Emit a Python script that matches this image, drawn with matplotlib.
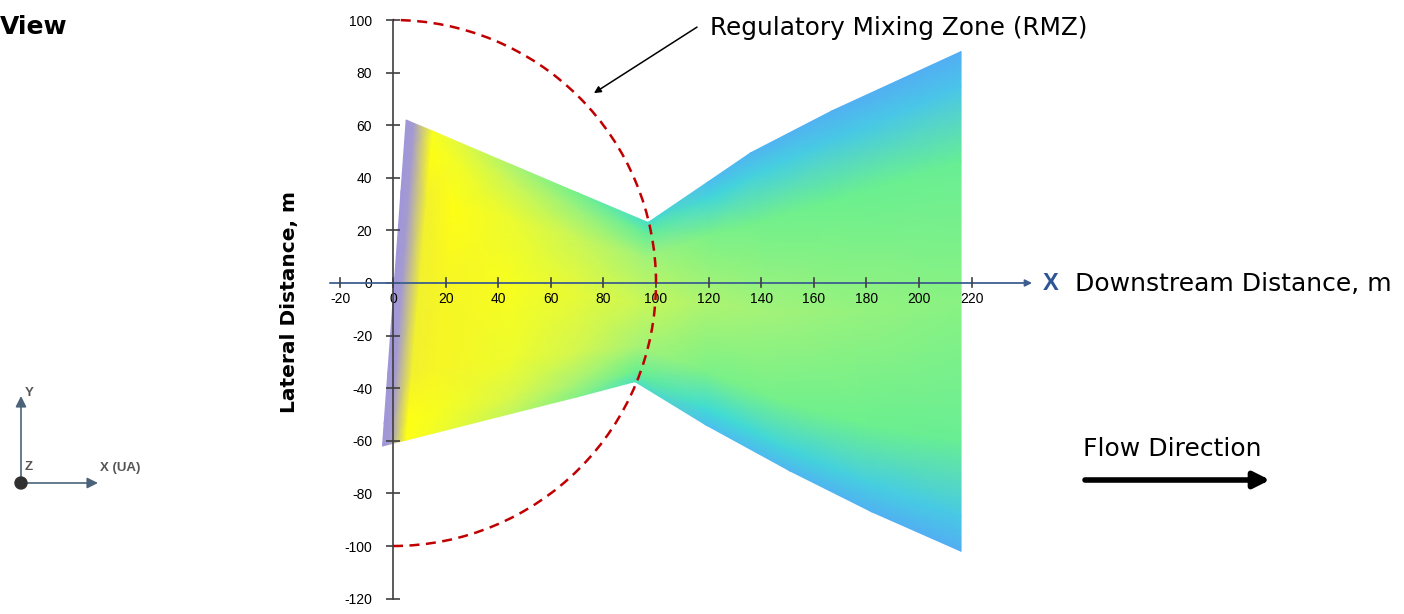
import numpy as np
import matplotlib
matplotlib.use("Agg")
import matplotlib.pyplot as plt
from matplotlib.colors import LinearSegmentedColormap
from matplotlib.patches import Arc, FancyArrowPatch, Circle

W, H = 1404, 614

# plume outline, sampled at matching stations along the top and bottom edges (m)
top_x = [5, 8, 15, 25, 45, 70, 97, 120, 136, 167, 216]
top_y = [62, 60.7, 57.8, 53.5, 45, 34.4, 23, 38.6, 49.5, 65.5, 88]
bot_x = [-4, -1, 5, 15, 45, 70, 92, 119, 151, 182, 216]
bot_y = [-62, -61.2, -59.7, -57.2, -49.6, -43.3, -37.5, -54, -71.5, -87, -102]

# fractional position across the plume (bottom edge = 0, top edge = 1)
across = [0, 0.07, 0.22, 0.5, 0.78, 0.93, 1]

# relative concentration at each station, bottom edge -> top edge
conc = [
    [1.00, 1.00, 1.00, 1.00, 1.00, 1.00, 1.00],
    [0.99, 0.99, 0.99, 0.99, 0.99, 0.99, 0.99],
    [0.84, 0.85, 0.87, 0.87, 0.87, 0.85, 0.82],
    [0.80, 0.82, 0.86, 0.86, 0.85, 0.80, 0.74],
    [0.64, 0.70, 0.78, 0.82, 0.77, 0.66, 0.58],
    [0.48, 0.56, 0.68, 0.75, 0.66, 0.52, 0.44],
    [0.34, 0.42, 0.56, 0.66, 0.55, 0.40, 0.32],
    [0.18, 0.30, 0.46, 0.58, 0.46, 0.28, 0.16],
    [0.12, 0.27, 0.44, 0.55, 0.44, 0.25, 0.10],
    [0.08, 0.24, 0.42, 0.52, 0.42, 0.22, 0.07],
    [0.05, 0.22, 0.41, 0.49, 0.41, 0.20, 0.05],
]

rmz_radius = 100
x_ticks = [-20, 0, 20, 40, 60, 80, 100, 120, 140, 160, 180, 200, 220]
y_ticks = [100, 80, 60, 40, 20, 0, -20, -40, -60, -80, -100, -120]

cmap = LinearSegmentedColormap.from_list("plume", [
    (0.00, "#55a8f5"),
    (0.18, "#4cc0ee"),
    (0.30, "#40dcd4"),
    (0.42, "#6cf08e"),
    (0.55, "#a2f37a"),
    (0.70, "#d8f84c"),
    (0.85, "#ffff14"),
    (1.00, "#a096da"),
])

plt.rcParams["font.family"] = ["Liberation Sans", "DejaVu Sans"]
fig = plt.figure(figsize=(W / 100, H / 100), dpi=100)

# axes placed so that one metre is ~2.63 px in both directions
scale = 2.63
x0_px, y0_px = 393, 283
xlim = (-30, 250)
ylim = (-125, 105)
left = (x0_px + xlim[0] * scale) / W
top = (y0_px - ylim[1] * scale) / H
ax = fig.add_axes([left, 1 - top - (ylim[1] - ylim[0]) * scale / H,
                   (xlim[1] - xlim[0]) * scale / W, (ylim[1] - ylim[0]) * scale / H])
ax.set_xlim(*xlim)
ax.set_ylim(*ylim)
ax.patch.set_alpha(0)

# curvilinear mesh between the two edges
t = np.array(across)[:, None]
tx, ty = np.array(top_x), np.array(top_y)
bx, by = np.array(bot_x), np.array(bot_y)
X = bx + t * (tx - bx)
Y = by + t * (ty - by)
C = np.array(conc).T
ax.pcolormesh(X, Y, C, shading="gouraud", cmap=cmap, vmin=0, vmax=1, zorder=1)

# mixing zone boundary
ax.add_patch(Arc((0, 0), 2 * rmz_radius, 2 * rmz_radius, theta1=-90, theta2=90,
                 color="#c00000", lw=1.8, ls=(0, (4, 2.6)), zorder=5))

# axes drawn through the origin
for s in ["top", "right", "bottom"]:
    ax.spines[s].set_visible(False)
ax.spines["left"].set_position(("data", 0))
ax.spines["left"].set_bounds(-120, 100)
ax.spines["left"].set_color("#404040")
ax.spines["left"].set_linewidth(1.2)
ax.spines["left"].set_zorder(4)
ax.annotate("", xy=(243, 0), xytext=(-24, 0),
            arrowprops=dict(arrowstyle="-|>", color="#3d5f8f", lw=1.3,
                            mutation_scale=10, shrinkA=0, shrinkB=0), zorder=4)

ax.set_yticks(y_ticks)
ax.set_yticklabels([str(v) for v in y_ticks])
ax.tick_params(axis="y", direction="inout", length=10, width=1.2, color="#404040",
               labelsize=10, pad=10)
ax.set_xticks([])
for v in x_ticks:
    ax.plot([v, v], [-1.5, 2], color="#404040", lw=1.2, zorder=4)
    ax.text(v, -3.5, str(v), ha="center", va="top", fontsize=10, zorder=4)

# callout for the mixing zone
ax.annotate("", xy=(76.4, 72.2), xytext=(115.6, 97.3),
            arrowprops=dict(arrowstyle="-|>", color="black", lw=1.1,
                            mutation_scale=10, shrinkA=0, shrinkB=0), zorder=6)

text_font = ["DejaVu Sans"]
fig.text(710 / W, 1 - 28 / H, "Regulatory Mixing Zone (RMZ)", fontsize=17.8,
         family=text_font, va="center", ha="left")
fig.text(1043 / W, 1 - 284 / H, "X", fontsize=17, fontweight="bold",
         color="#2e5597", va="center", ha="left")
fig.text(1075 / W, 1 - 284 / H, "Downstream Distance, m", fontsize=18,
         family=text_font, va="center", ha="left")
fig.text(1083 / W, 1 - 449 / H, "Flow Direction", fontsize=18,
         family=text_font, va="center", ha="left")
fig.text(289 / W, 1 - 302 / H, "Lateral Distance, m", fontsize=14.5,
         fontweight="bold", family=text_font, rotation=90, va="center", ha="center")
fig.text(0, 1 - 27 / H, "View", fontsize=18, fontweight="bold",
         family=text_font, va="center", ha="left")

# flow direction arrow
fig.patches.append(FancyArrowPatch(
    (1085, H - 480), (1270, H - 480), transform=None, arrowstyle="-|>",
    mutation_scale=24, lw=4, color="black", shrinkA=0, shrinkB=0))

# small coordinate triad
triad = "#4a6378"
fig.patches.append(FancyArrowPatch(
    (21, H - 483), (21, H - 396), transform=None, arrowstyle="-|>",
    mutation_scale=16, lw=1.2, color=triad, shrinkA=0, shrinkB=0))
fig.patches.append(FancyArrowPatch(
    (21, H - 483), (98, H - 483), transform=None, arrowstyle="-|>",
    mutation_scale=16, lw=1.2, color=triad, shrinkA=0, shrinkB=0))
fig.patches.append(Circle((21, H - 483), 6, transform=None, color="#303030"))
fig.text(29 / W, 1 - 393 / H, "Y", fontsize=9.5, fontweight="bold", color="#555555",
         va="center", ha="center")
fig.text(29 / W, 1 - 467 / H, "Z", fontsize=9.5, fontweight="bold", color="#555555",
         va="center", ha="center")
fig.text(100 / W, 1 - 468 / H, "X (UA)", fontsize=9.5, fontweight="bold",
         color="#555555", va="center", ha="left")

fig.savefig("out.png", dpi=100)
